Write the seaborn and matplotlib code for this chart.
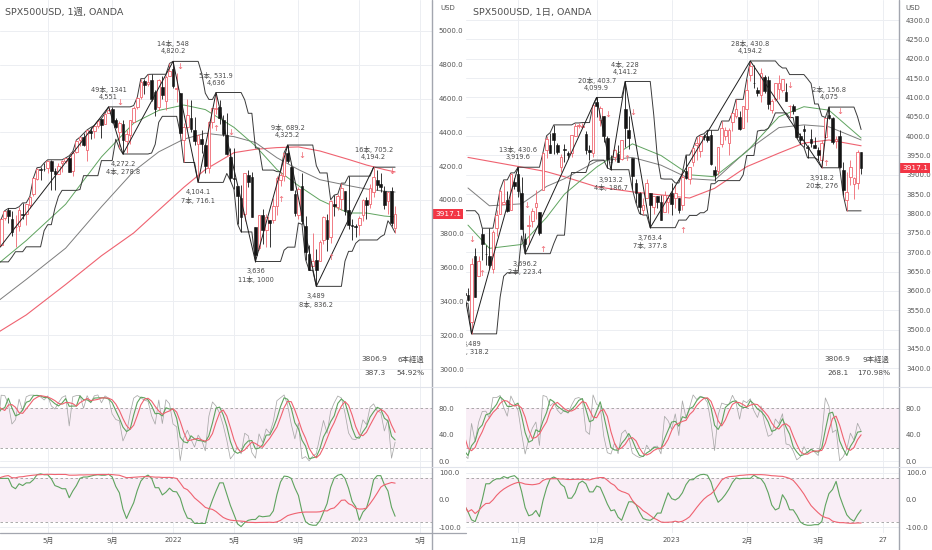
import numpy as np
import pandas as pd
import matplotlib
matplotlib.use("Agg")
import matplotlib.pyplot as plt
import matplotlib.transforms as mtransforms
from matplotlib.lines import Line2D
import seaborn as sns

sns.set_theme(style="white")
plt.rcParams["font.family"] = ["DejaVu Sans", "Noto Sans CJK JP"]
plt.rcParams["axes.unicode_minus"] = False

# ---------------- weekly bars (weeks starting Mondays from 2020-11-30; first 8 = warm-up) -------------
w_start = "2020-11-30"
w_open = [
    3653, 3698, 3675, 3684, 3723, 3764, 3803, 3772,
    3841, 3731, 3892, 3939, 3886, 3842, 3844, 3917, 3916, 3969,
    4034, 4124, 4183, 4185, 4191, 4228, 4169, 4156, 4216, 4230,
    4248, 4174, 4285, 4356, 4372, 4296, 4409, 4406, 4437, 4477,
    4450, 4513, 4536, 4474, 4402, 4449, 4348, 4385, 4463, 4553,
    4610, 4702, 4689, 4712, 4640, 4548, 4668, 4588, 4733, 4778,
    4655, 4632, 4357, 4432, 4483, 4412, 4332, 4363, 4323, 4188,
    4462, 4541, 4548, 4474, 4386, 4255, 4130, 4081, 4013, 3920,
    4149, 4135, 3838, 3715, 3913, 3820, 3880, 3883, 3967, 4120,
    4140, 4281, 4195, 4034, 3910, 4083, 3849, 3682, 3610, 3647,
    3638, 3762, 3882, 3781, 3978, 3957, 4005, 4052, 3940, 3853,
    3844, 3853, 3910, 3999, 3979, 4049, 4120, 4096, 4052, 3992,
    4055, 3835]
w_high = [
    3701, 3713, 3726, 3712, 3760, 3826, 3823, 3861,
    3870, 3887, 3937, 3950, 3932, 3914, 3960, 3983, 3978, 4021,
    4130, 4191, 4194, 4219, 4238, 4238, 4188, 4217, 4234, 4249,
    4262, 4287, 4355, 4372, 4394, 4415, 4429, 4441, 4468, 4482,
    4513, 4551, 4548, 4487, 4466, 4475, 4415, 4475, 4559, 4608,
    4718, 4718, 4743, 4744, 4652, 4713, 4732, 4740, 4808, 4820.2,
    4749, 4632, 4453, 4595, 4590, 4489, 4385, 4416, 4325, 4465,
    4546, 4636, 4593, 4500, 4513, 4308, 4307, 4082, 4090, 4159,
    4177, 4168, 3838, 3913, 3946, 3918, 3880, 4012, 4140, 4167,
    4280, 4325.2, 4203, 4062, 4076, 4160, 3908, 3736, 3807, 3712,
    3762, 3905, 3919.6, 4001, 4029, 4035, 4099.9, 4053, 4141.2, 3889,
    3858, 3906, 4003, 4015, 4095, 4194.2, 4176, 4159, 4083, 4048,
    4075, 3965]
w_low = [
    3594, 3633, 3647, 3636, 3634, 3662, 3749, 3760,
    3694, 3725, 3884, 3866, 3789, 3723, 3819, 3885, 3854, 3951,
    4021, 4120, 4117, 4173, 4159, 4057, 4062, 4154, 4168, 4220,
    4164, 4144, 4279, 4321, 4322, 4233, 4360, 4368, 4425, 4367,
    4450, 4513, 4457, 4427, 4306, 4272.2, 4278, 4329, 4460, 4537,
    4596, 4630, 4672, 4585, 4495, 4532, 4600, 4531, 4733, 4662,
    4582, 4395, 4222, 4414, 4401, 4327, 4104.1, 4279, 4157, 4162,
    4424, 4506, 4450, 4381, 4267, 4115, 4063, 3858, 3811, 3875,
    4074, 3900, 3636, 3703, 3742, 3722, 3721, 3864, 3910, 4080,
    4112, 4218, 4057, 3907, 3887, 3856, 3647, 3584, 3610, 3489,
    3638, 3742, 3696.2, 3744, 3906, 3940, 3938, 3913.2, 3827, 3763.4,
    3783, 3795, 3877, 3885, 3950, 4015, 4060, 4048, 3944, 3918.2,
    3847, 3806.9]
w_close = [
    3699, 3663, 3709, 3703, 3756, 3825, 3768, 3841,
    3714, 3886, 3934, 3907, 3811, 3842, 3943, 3913, 3975, 4020,
    4129, 4185, 4180, 4181, 4232, 4174, 4156, 4204, 4230, 4247,
    4166, 4281, 4352, 4370, 4327, 4412, 4395, 4437, 4468, 4442,
    4509, 4535, 4459, 4433, 4455, 4357, 4391, 4471, 4545, 4605,
    4698, 4683, 4698, 4595, 4538, 4712, 4621, 4726, 4766, 4677,
    4663, 4398, 4432, 4501, 4419, 4349, 4385, 4329, 4204, 4463,
    4543, 4546, 4488, 4392, 4272, 4132, 4123, 4024, 3901, 4158,
    4109, 3901, 3675, 3912, 3825, 3899, 3863, 3962, 4130, 4145,
    4280, 4228, 4058, 3924, 4068, 3873, 3693, 3586, 3640, 3583,
    3753, 3901, 3771, 3993, 3965, 4026, 4072, 3934, 3852, 3845,
    3840, 3895, 3999, 3972, 4071, 4136, 4090, 4079, 3970, 4046,
    3862, 3917.1]

# weekly moving averages (bar index, value)
w_ma_idx = [8, 16, 27, 37, 46, 53, 60, 66, 74, 80, 86, 92, 98, 106, 111, 116, 119]
w_ma26 = [3620, 3760, 3975, 4255, 4455, 4530, 4562, 4535, 4430, 4320, 4180, 4085, 4000, 3923, 3923, 3905, 3900]
w_ma52 = [3400, 3530, 3715, 3960, 4170, 4285, 4360, 4395, 4375, 4340, 4250, 4180, 4120, 4085, 4065, 4052, 4047]
w_ma75 = [3215, 3320, 3500, 3670, 3805, 3940, 4075, 4180, 4280, 4300, 4310, 4314, 4290, 4240, 4207, 4180, 4166]

# weekly zigzag pivots
w_piv_idx = [-10, 39, 43, 57, 64, 69, 80, 89, 97, 113]
w_piv_px = [3210, 4551, 4272.2, 4820.2, 4104.1, 4636, 3636, 4325.2, 3489, 4194.2]

# weekly signal arrows
w_arr_idx = [42, 59, 69, 73, 87, 93, 101, 118]
w_arr_px = [4574, 4790, 4426, 4402, 4000, 4266, 3657, 4166]
w_arr_dir = ["d", "d", "u", "d", "u", "d", "u", "d"]

# ---------------- daily bars (business days from 2022-09-30; first 8 = warm-up) ----------------
d_start, d_end = "2022-09-30", "2023-04-07"
d_closed = ["2022-12-26", "2023-01-02"]
d_open = [
    3633, 3609, 3737, 3748, 3771, 3706, 3647, 3595, 3590, 3520,
    3690, 3638, 3746, 3696, 3689, 3657, 3762, 3799, 3825, 3834,
    3808, 3882, 3901, 3853, 3733, 3767, 3781, 3817, 3805, 3860,
    3964, 3978, 4007, 3976, 3919, 3966, 3957, 3956, 4001, 4027,
    4023, 4005, 3964, 3957, 4087, 4041, 4052, 3996, 3934, 3947,
    3954, 3940, 4069, 4015, 3943, 3880, 3853, 3810, 3839, 3853,
    3816, 3844, 3829, 3805, 3830, 3853, 3840, 3840, 3823, 3910,
    3888, 3932, 3977, 3961, 3999, 3999, 4002, 3912, 3909, 3979,
    4001, 3982, 4037, 4053, 4049, 4020, 4070, 4158, 4137, 4120,
    4106, 4153, 4144, 4068, 4096, 4121, 4120, 4114, 4077, 4079,
    4052, 4001, 4018, 3973, 3992, 3977, 3963, 3938, 3998, 4055,
    4048, 3987, 3999, 3912, 3835, 3895, 3876, 3879, 3959]
d_high = [
    3671, 3698, 3791, 3807.2, 3797, 3710, 3653, 3640, 3608, 3685,
    3712, 3689, 3762, 3719, 3762, 3757, 3810, 3862, 3887, 3859,
    3905, 3893, 3919.6, 3894, 3750, 3796, 3814, 3860, 3805, 3958,
    4001, 4009, 4029, 3983, 3954, 3979, 3962, 4004, 4034, 4033,
    4035, 4013, 3976, 4080, 4099.9, 4077, 4053, 4001, 3951, 3966,
    3977, 3991, 4141.2, 4053, 3944, 3890, 3855, 3839, 3889, 3853,
    3845, 3846, 3849, 3858, 3840, 3879, 3873, 3840, 3906, 3951,
    3920, 3970, 3997, 4003, 4006, 4015, 4015, 3923, 3973, 4039,
    4023, 4020, 4061, 4095, 4064, 4077, 4148, 4194.2, 4183, 4127,
    4176, 4157, 4156, 4095, 4138, 4159, 4148, 4136, 4081, 4083,
    4052, 4008, 4028, 3978, 4018, 3997, 3972, 3990, 4048, 4075,
    4050, 4000, 4017, 3934, 3906, 3937, 3894, 3965, 3959]
d_low = [
    3584, 3604, 3733, 3683, 3739, 3636, 3588, 3568, 3573, 3489,
    3584, 3638, 3680, 3666, 3657, 3647, 3742, 3799, 3824, 3803,
    3808, 3863, 3843, 3759, 3696.2, 3722, 3764, 3786, 3744, 3860,
    3944, 3956, 3954, 3954, 3906, 3933, 3940, 3947, 3999, 4022,
    4020, 3955, 3938, 3946, 4050, 4026, 3984, 3918, 3913.2, 3935,
    3933, 3937, 3973, 3966, 3863, 3827, 3800, 3796, 3839, 3763.4,
    3798, 3813, 3783, 3805, 3801, 3795, 3815, 3802, 3809, 3890,
    3877, 3924, 3937, 3947, 3990, 3985, 3926, 3885, 3900, 3972,
    3990, 3950, 4013, 4048, 4015, 4020, 4037, 4142, 4124, 4104,
    4088, 4111, 4070, 4060, 4092, 4095, 4113, 4092, 4048, 4058,
    3995, 3980, 3971, 3944, 3973, 3968, 3939, 3918.2, 3995, 4044,
    3980, 3970, 3918, 3847, 3806.9, 3873, 3838, 3864, 3901]
d_close = [
    3586, 3678, 3791, 3783, 3745, 3640, 3612, 3589, 3577, 3670,
    3583, 3677, 3720, 3695, 3666, 3752, 3797, 3859, 3830, 3807,
    3901, 3872, 3857, 3760, 3720, 3771, 3807, 3828, 3749, 3956,
    3993, 3957, 3991, 3959, 3947, 3965, 3950, 4003, 4027, 4029,
    4026, 3964, 3958, 4080, 4077, 4072, 3999, 3941, 3933, 3964,
    3934, 3991, 4020, 3996, 3896, 3852, 3818, 3821, 3879, 3822,
    3845, 3829, 3783, 3849, 3840, 3824, 3853, 3808, 3895, 3893,
    3919, 3970, 3983, 3999, 3998, 3991, 3928, 3899, 3973, 4020,
    4017, 4016, 4060, 4071, 4018, 4077, 4119, 4180, 4136, 4111,
    4164, 4117, 4082, 4090, 4137, 4136, 4148, 4090, 4079, 4065,
    3998, 3991, 4012, 3970, 3982, 3970, 3951, 3981, 4046, 4048,
    3986, 3992, 3919, 3862, 3855, 3920, 3892, 3960, 3917.1]

d_ma_idx = [8, 14, 23, 30, 35, 44, 54, 62, 70, 77, 86, 95, 102, 109, 118]
d_ma_g = [3770, 3710, 3720, 3790, 3850, 3920, 3980, 3950, 3900, 3895, 3960, 4050, 4076, 4067, 3995]
d_ma_k = [3866, 3820, 3825, 3870, 3890, 3935, 3945, 3925, 3890, 3886, 3962, 4022, 4029, 4024, 3990]
d_ma_r = [3945, 3935, 3920, 3908, 3895, 3869, 3856, 3848, 3840, 3865, 3921, 3956, 3982, 3990, 3975]

d_piv_idx = [3, 9, 22, 24, 44, 48, 52, 59, 87, 107, 109]
d_piv_px = [3807.2, 3489, 3919.6, 3696.2, 4099.9, 3913.2, 4141.2, 3763.4, 4194.2, 3918.2, 4075]

d_arr_idx = [9, 12, 24.5, 29, 47, 52.5, 54, 68, 98, 108, 112]
d_arr_px = [3734, 3644, 3820, 3707, 4055, 3942, 4061, 3757, 4130, 3928, 4064]
d_arr_dir = ["d", "u", "d", "u", "d", "u", "d", "u", "d", "u", "d"]

CHANNEL_LEN = 8

# ---------------- styling ----------------
TXT = "#4a4a4a"
LAB = "#555555"
GRID = "#eceef2"
UP = "#ef6670"
DN = "#141414"
MA_G = "#5fa35f"
MA_K = "#7d7d7d"
MA_R = "#ef6270"
BAND = "#f9eef6"
SEP = "#e0e3eb"
AXL = "#a3a6af"

W, H = 932.0, 550.0
fig = plt.figure(figsize=(W / 100, H / 100), dpi=100)
fig.patch.set_facecolor("white")


def add_ax(x0, x1, y0, y1):
    return fig.add_axes([x0 / W, 1 - y1 / H, (x1 - x0) / W, (y1 - y0) / H])


def stoch(h, l, c, n=9):
    hh = pd.Series(h).rolling(n, min_periods=1).max()
    ll = pd.Series(l).rolling(n, min_periods=1).min()
    k = (pd.Series(c) - ll) / (hh - ll) * 100
    d = k.rolling(3, min_periods=1).mean()
    sd = d.rolling(3, min_periods=1).mean()
    return k.values, d.values, sd.values


def rci(c, n):
    c = np.asarray(c, float)
    out = np.full(len(c), np.nan)
    for t in range(len(c)):
        m = min(n, t + 1)
        if m < 4:
            continue
        w = c[t - m + 1:t + 1]
        date_rank = np.arange(m, 0, -1)
        price_rank = pd.Series(w).rank(ascending=False).values
        d = date_rank - price_rank
        out[t] = (1 - 6 * np.sum(d ** 2) / (m * (m * m - 1))) * 100
    return out


def fmt_px(p):
    s = f"{p:,.1f}"
    return s[:-2] if s.endswith(".0") else s


def fmt_d(d):
    return f"{round(d, 1):g}"


def base_style(ax, xlim, ylim, yticks, xticks=None, xlabels=None, top_sep=True):
    ax.set_facecolor("white")
    ax.set_xlim(*xlim)
    ax.set_ylim(*ylim)
    ax.yaxis.tick_right()
    ax.set_yticks(yticks)
    ax.set_yticklabels([f"{v:.1f}" for v in yticks])
    ax.tick_params(axis="y", length=0, pad=5, labelsize=5, labelcolor=LAB)
    ax.tick_params(axis="x", length=0, pad=3, labelsize=5, labelcolor=LAB)
    if xticks is not None:
        ax.set_xticks(xticks)
        ax.set_xticklabels(xlabels)
    else:
        ax.set_xticks([])
    for s in ["left", "right", "bottom"]:
        ax.spines[s].set_visible(False)
    ax.spines["top"].set_visible(top_sep)
    ax.spines["top"].set_color(SEP)
    ax.spines["top"].set_linewidth(0.8)
    ax.grid(False)
    ax.set_xlabel("")
    ax.set_ylabel("")
    for v in yticks:
        ax.axhline(v, color=GRID, lw=0.7, zorder=0)


def draw_panel(x0, x1, o, h, l, c, xlim, ylim, price_ticks, ma_idx, mas, piv_idx, piv_px,
               arr_idx, arr_px, arr_dir, tick_pos, tick_lab, title, cols):
    o, h, l, c = (np.asarray(v, float) for v in (o, h, l, c))
    x = np.arange(len(c))
    ax = add_ax(x0, x1, 0, 387)
    a1 = add_ax(x0, x1, 387, 467)
    a2 = add_ax(x0, x1, 467, 533)

    # --- main price pane ---
    base_style(ax, xlim, ylim, price_ticks, top_sep=False)
    for t in tick_pos:
        for a in (ax, a1, a2):
            a.axvline(t, color=GRID, lw=0.7, zorder=0)

    # moving averages
    for vals, col, lw in mas:
        sns.lineplot(x=ma_idx, y=vals, ax=ax, color=col, linewidth=lw, legend=False,
                     estimator=None, sort=False, zorder=2)
    # price channel
    up_ch = pd.Series(h).rolling(CHANNEL_LEN, min_periods=1).max().values
    lo_ch = pd.Series(l).rolling(CHANNEL_LEN, min_periods=1).min().values
    sns.lineplot(x=x, y=up_ch, ax=ax, color="#3a3a3a", linewidth=0.7, legend=False, estimator=None, zorder=2)
    sns.lineplot(x=x, y=lo_ch, ax=ax, color="#3a3a3a", linewidth=0.7, legend=False, estimator=None, zorder=2)

    # candles
    upm = c >= o
    bw = 0.74
    ax.vlines(x[upm], l[upm], h[upm], color=UP, lw=0.6, zorder=3)
    ax.vlines(x[~upm], l[~upm], h[~upm], color=DN, lw=0.6, zorder=3)
    ax.bar(x[upm], (c - o)[upm], bottom=o[upm], width=bw, facecolor="white",
           edgecolor=UP, linewidth=0.6, zorder=4)
    ax.bar(x[~upm], (c - o)[~upm], bottom=o[~upm], width=bw, facecolor=DN,
           edgecolor=DN, linewidth=0.4, zorder=4)

    # zigzag
    sns.lineplot(x=piv_idx, y=piv_px, ax=ax, color="#1e1e1e", linewidth=0.7, legend=False,
                 estimator=None, sort=False, zorder=5)

    # pivot labels
    for i in range(1, len(piv_idx)):
        n = piv_idx[i] - piv_idx[i - 1]
        d = abs(piv_px[i] - piv_px[i - 1])
        hi = piv_px[i] > piv_px[i - 1]
        if hi:
            txt = f"{n}本, {fmt_d(d)}\n{fmt_px(piv_px[i])}"
            tr = mtransforms.offset_copy(ax.transData, fig=fig, x=0, y=5, units="points")
            va = "bottom"
        else:
            txt = f"{fmt_px(piv_px[i])}\n{n}本, {fmt_d(d)}"
            tr = mtransforms.offset_copy(ax.transData, fig=fig, x=0, y=-5, units="points")
            va = "top"
        ax.text(piv_idx[i], piv_px[i], txt, transform=tr, ha="center", va=va, fontsize=4.8,
                color=TXT, linespacing=1.2, clip_on=True, zorder=6)

    # arrows
    for ai, ap, ad in zip(arr_idx, arr_px, arr_dir):
        ax.text(ai, ap, "↓" if ad == "d" else "↑", ha="center", va="center", fontsize=6,
                color=UP, zorder=6)

    # summary of current leg
    last_i = len(c) - 1
    cur_low = float(np.min(l[piv_idx[-1]:]))
    bars = last_i - piv_idx[-1]
    leg = piv_px[-1] - cur_low
    prev_leg = abs(piv_px[-1] - piv_px[-2])
    pct = leg / prev_leg * 100
    c1, c2 = cols
    ax.text(c1, 1 - 359 / 387, f"{cur_low:.1f}", transform=ax.transAxes, ha="right",
            va="center", fontsize=5.3, color=TXT)
    ax.text(c2, 1 - 359 / 387, f"{bars}本経過", transform=ax.transAxes, ha="right",
            va="center", fontsize=5.3, color=TXT)
    ax.text(c1 - 0.004, 1 - 373 / 387, f"{leg:.1f}", transform=ax.transAxes, ha="right",
            va="center", fontsize=5.3, color=TXT)
    ax.text(c2 + 0.002, 1 - 373 / 387, f"{pct:.2f}%", transform=ax.transAxes, ha="right",
            va="center", fontsize=5.3, color=TXT)

    # title
    ax.text(0.012 if x0 == 0 else 0.016, 1 - 12 / 387, title, transform=ax.transAxes,
            ha="left", va="center", fontsize=6.8, color="#4f4f4f")

    # last price tag
    tr = mtransforms.blended_transform_factory(ax.transAxes, ax.transData)
    ax.text(1.0 + 3.0 / (x1 - x0), c[-1], f"{c[-1]:.1f}", transform=tr, ha="left", va="center",
            fontsize=5.3, color="white", clip_on=False, zorder=10,
            bbox=dict(boxstyle="square,pad=0.28", fc="#f23645", ec="none"))

    # --- stochastic pane ---
    k, dd, sd = stoch(h, l, c)
    base_style(a1, xlim, (-9, 112), [0, 40, 80])
    a1.axhspan(20, 80, color=BAND, zorder=0, lw=0)
    for v in (20, 80):
        a1.axhline(v, color="#9c9c9c", lw=0.6, ls=(0, (3, 3)), zorder=1)
    a1.plot(x, k, color="#a9a9a9", lw=0.55, zorder=2)
    a1.plot(x, dd, color=MA_G, lw=0.8, zorder=3)
    a1.plot(x, sd, color=MA_R, lw=0.8, zorder=4)

    # --- RCI pane ---
    base_style(a2, xlim, (-122, 122), [-100, 0, 100], xticks=tick_pos, xlabels=tick_lab)
    a2.axhspan(-80, 80, color=BAND, zorder=0, lw=0)
    for v in (-80, 80):
        a2.axhline(v, color="#9c9c9c", lw=0.6, ls=(0, (3, 3)), zorder=1)
    a2.plot(x, rci(c, 9), color=MA_G, lw=0.8, zorder=3)
    a2.plot(x, rci(c, 26), color=MA_R, lw=0.8, zorder=4)
    return ax


# ---------------- dates / ticks ----------------
w_dates = pd.date_range(w_start, periods=len(w_close) + 20, freq="W-MON")
w_xlim = (8.67, 129.3)
w_tick_pos, w_tick_lab = [], []
for i in range(1, len(w_dates)):
    dt, pv = w_dates[i], w_dates[i - 1]
    if dt.month != pv.month and dt.month in (1, 5, 9) and w_xlim[0] < i < w_xlim[1]:
        w_tick_pos.append(i)
        w_tick_lab.append(str(dt.year) if dt.month == 1 else f"{dt.month}月")

d_dates = pd.bdate_range(d_start, d_end)
d_dates = d_dates[~d_dates.isin(pd.to_datetime(d_closed))]
d_xlim = (7.45, 128.6)
d_tick_pos, d_tick_lab = [], []
for i in range(1, len(d_dates)):
    dt, pv = d_dates[i], d_dates[i - 1]
    if d_xlim[0] < i < d_xlim[1]:
        if dt.month != pv.month and dt.month in (11, 12, 1, 2, 3):
            d_tick_pos.append(i)
            d_tick_lab.append(str(dt.year) if dt.month == 1 else f"{dt.month}月")
        elif dt == pd.Timestamp("2023-03-27"):
            d_tick_pos.append(i)
            d_tick_lab.append("27")

# ---------------- panels ----------------
draw_panel(0, 432, w_open, w_high, w_low, w_close, w_xlim, (2893.5, 5183.4),
           list(range(3000, 5001, 200)), w_ma_idx,
           [(w_ma75, MA_R, 0.8), (w_ma52, MA_K, 0.7), (w_ma26, MA_G, 0.7)],
           w_piv_idx, w_piv_px, w_arr_idx, w_arr_px, w_arr_dir,
           w_tick_pos, w_tick_lab, "SPX500USD, 1週, OANDA", (0.896, 0.981))

draw_panel(466, 899, d_open, d_high, d_low, d_close, d_xlim, (3351.7, 4351.7),
           list(range(3400, 4301, 50)), d_ma_idx,
           [(d_ma_r, MA_R, 0.8), (d_ma_k, MA_K, 0.7), (d_ma_g, MA_G, 0.7)],
           d_piv_idx, d_piv_px, d_arr_idx, d_arr_px, d_arr_dir,
           d_tick_pos, d_tick_lab, "SPX500USD, 1日, OANDA", (0.887, 0.977))

# ---------------- frame lines ----------------
def fline(xa, ya, xb, yb, color, lw):
    fig.add_artist(Line2D([xa / W, xb / W], [1 - ya / H, 1 - yb / H], color=color, lw=lw,
                          transform=fig.transFigure))

fline(432, 0, 432, 550, AXL, 1.0)
fline(899, 0, 899, 550, AXL, 1.0)
fline(0, 533, 466, 533, AXL, 0.9)
fline(432, 387, 466, 387, SEP, 0.8)
fline(432, 467, 466, 467, SEP, 0.8)
fline(899, 387, 932, 387, SEP, 0.8)
fline(899, 467, 932, 467, SEP, 0.8)
fig.text(440 / W, 1 - 8 / H, "USD", fontsize=5, color=LAB, ha="left", va="center")
fig.text(905 / W, 1 - 8 / H, "USD", fontsize=5, color=LAB, ha="left", va="center")

fig.savefig("out.png", dpi=100, facecolor="white")
